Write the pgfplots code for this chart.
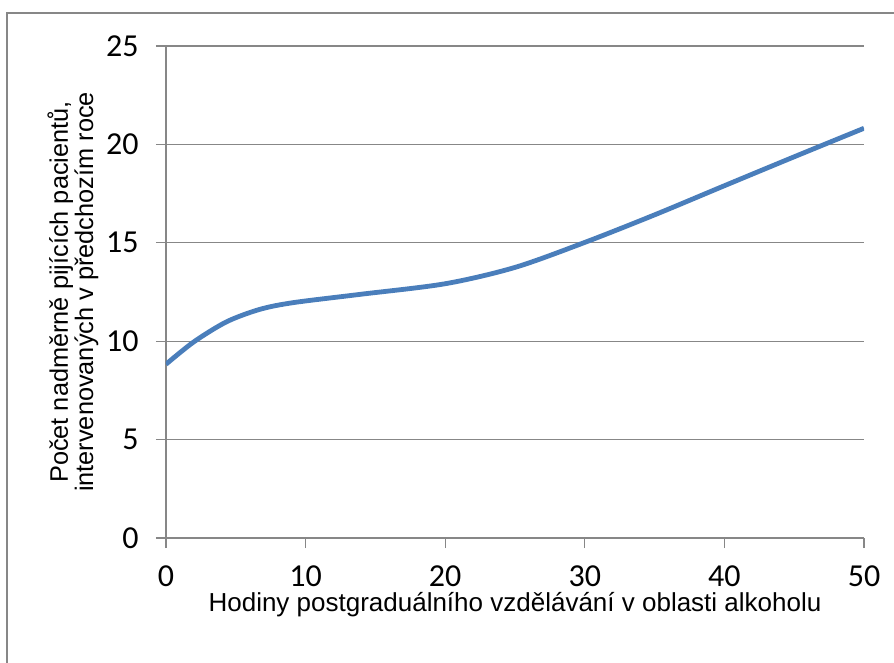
\documentclass[border=0pt]{standalone}
\usepackage{pgfplots}
\pgfplotsset{compat=1.18}
\usepackage{fontspec}
\setmainfont{Liberation Sans}
\newfontfamily\numfont{Carlito}
\definecolor{linec}{HTML}{4A7EBB}
\definecolor{gridc}{HTML}{878787}
\begin{document}
\begin{tikzpicture}
\useasboundingbox (0,0) rectangle (670.5pt,496.5pt);
\draw[gridc, line width=1pt] (5.25pt,-10pt) -- (5.25pt,486.75pt) -- (700pt,486.75pt);
\begin{axis}[
  at={(124.5pt,93pt)}, anchor=south west,
  scale only axis, width=523.5pt, height=369pt,
  xmin=0, xmax=50, ymin=0, ymax=25,
  xtick={0,10,...,50}, ytick={0,5,...,25},
  axis x line*=bottom, axis y line*=left,
  axis line style={gridc, line width=1pt, -},
  ymajorgrids, grid style={gridc, line width=1pt},
  tick style={gridc, line width=1pt},
  major tick length=7.5pt, tick align=outside,
  /pgf/number format/assume math mode=true,
  ticklabel style={font=\numfont\fontsize{24}{24}\selectfont},
  yticklabel style={xshift=-9.5pt},
  xticklabel style={yshift=-9.5pt},
  xlabel={Hodiny postgraduálního vzdělávání v oblasti alkoholu},
  xlabel style={font=\fontsize{19.5}{21}\selectfont, yshift=2pt},
  ylabel={Počet nadměrně pijících pacientů,\\intervenovaných v předchozím roce},
  ylabel style={font=\fontsize{19}{19}\selectfont, align=center, yshift=-1pt},
]
\addplot[linec, line width=3.6pt, smooth, tension=0.5] coordinates {
  (0,8.83) (2,9.97) (4.35,10.99) (6.73,11.62) (9.12,11.96) (13.9,12.38)
  (20,12.92) (25,13.75) (30,15.02) (35,16.42) (40,17.9) (45,19.37) (50,20.82)
};
\end{axis}
\end{tikzpicture}
\end{document}
